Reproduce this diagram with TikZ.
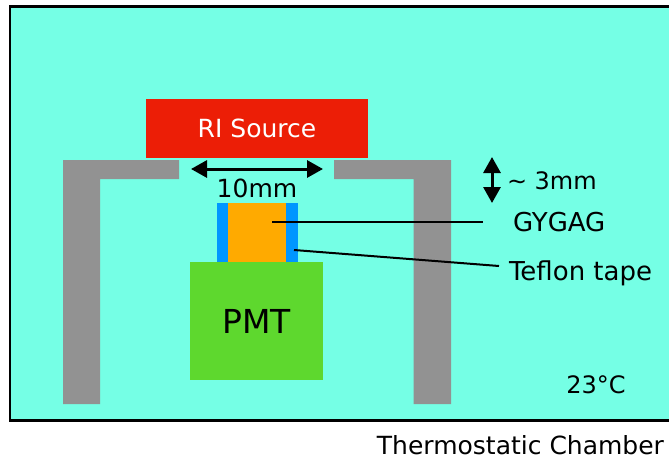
\documentclass[tikz,border=0pt]{standalone}
\usepackage{fontspec}
\setmainfont{DejaVu Sans}
\usetikzlibrary{positioning, arrows.meta}
\definecolor{chamber_col}{HTML}{75FFE5}
\definecolor{source_col}{HTML}{EC1E06}
\definecolor{shield_col}{HTML}{929292}
\definecolor{tape_col}{HTML}{0096FF}
\definecolor{crystal_col}{HTML}{FFAA00}
\definecolor{pmt_col}{HTML}{5ED82E}
\tikzset{
    block/.style={rectangle, inner sep=0pt, outer sep=0pt, text centered, align=center},
    label_text/.style={inner sep=0pt, outer sep=0pt, font=\fontsize{24}{24}\selectfont},
    wide_text/.style={inner sep=0pt, outer sep=0pt, font=\fontsize{25}{25}\selectfont},
    big_text/.style={inner sep=0pt, outer sep=0pt, font=\fontsize{26}{26}\selectfont},
    arrow/.style={line width=3pt, {Triangle[length=16pt,width=17pt]}-{Triangle[length=16pt,width=17pt]}},
    line/.style={line width=2pt},
    shield/.style={fill=shield_col},
}
\begin{document}
\begin{tikzpicture}[x=1pt, y=-1pt, node distance=0pt]
      \useasboundingbox (0,0) rectangle (669,458);
      %%%%%%%%%%%
      % CHAMBER %
      %%%%%%%%%%%
      \fill [chamber_col] (10,6.5) rectangle (669,420.5);
      \draw [line width=2.5pt] (669,6.5) -- (10,6.5) -- (10,420.5) -- (669,420.5);
      \node (temperature) [label_text] at (596,385) {23\textdegree C};
      \node (chamber_name) [wide_text, anchor=east] at (664,445) {Thermostatic Chamber};

      %%%%%%%%%%
      % SHIELD %
      %%%%%%%%%%
      \fill [shield] (63,160) -- (179,160) -- (179,179) -- (100,179) -- (100,404) -- (63,404) -- cycle;
      \fill [shield] (451,160) -- (334,160) -- (334,179) -- (413.5,179) -- (413.5,404) -- (451,404) -- cycle;

      %%%%%%%%%%
      % SOURCE %
      %%%%%%%%%%
      \node (source) [block, fill=source_col, text=white, font=\fontsize{25}{25}\selectfont,
            minimum width=222pt, minimum height=59.5pt] at (257,128.25) {RI Source};

      %%%%%%%%%%%%%
      % DETECTOR  %
      %%%%%%%%%%%%%
      \node (pmt) [block, fill=pmt_col, font=\fontsize{33}{33}\selectfont,
            minimum width=133pt, minimum height=118pt] at (256.5,321) {PMT};
      \node (tape) [block, fill=tape_col, minimum width=81pt, minimum height=59pt,
            above = of pmt, xshift=1pt] {};
      \node (crystal) [block, fill=crystal_col, minimum width=58pt, minimum height=59pt,
            above = of pmt, xshift=0.5pt] {};

      %%%%%%%%%%%%%%
      % DIMENSIONS %
      %%%%%%%%%%%%%%
      \coordinate (gap_left) at (191,169);
      \coordinate (gap_right) at (323,169);
      \coordinate (height_top) at (492,157);
      \coordinate (height_bottom) at (492,203);
      \node (gap_text) [wide_text] at (257,188) {10mm};
      \node (height_text) [label_text, anchor=west] at (507,181) {\textasciitilde{} 3mm};
      \draw [arrow] (gap_left) -- (gap_right);
      \draw [arrow] (height_top) -- (height_bottom);

      %%%%%%%%%%%%%
      % CALLOUTS  %
      %%%%%%%%%%%%%
      \node (gygag_text) [big_text, anchor=west] at (513,222) {GYGAG};
      \node (teflon_text) [big_text, anchor=west] at (509,273) {Teflon tape};
      \coordinate (gygag_start) at (272,222);
      \coordinate (gygag_end) at (483,222);
      \coordinate (teflon_start) at (294,250);
      \coordinate (teflon_end) at (499,266);
      \draw [line] (gygag_start) -- (gygag_end);
      \draw [line] (teflon_start) -- (teflon_end);
   \end{tikzpicture}
\end{document}
